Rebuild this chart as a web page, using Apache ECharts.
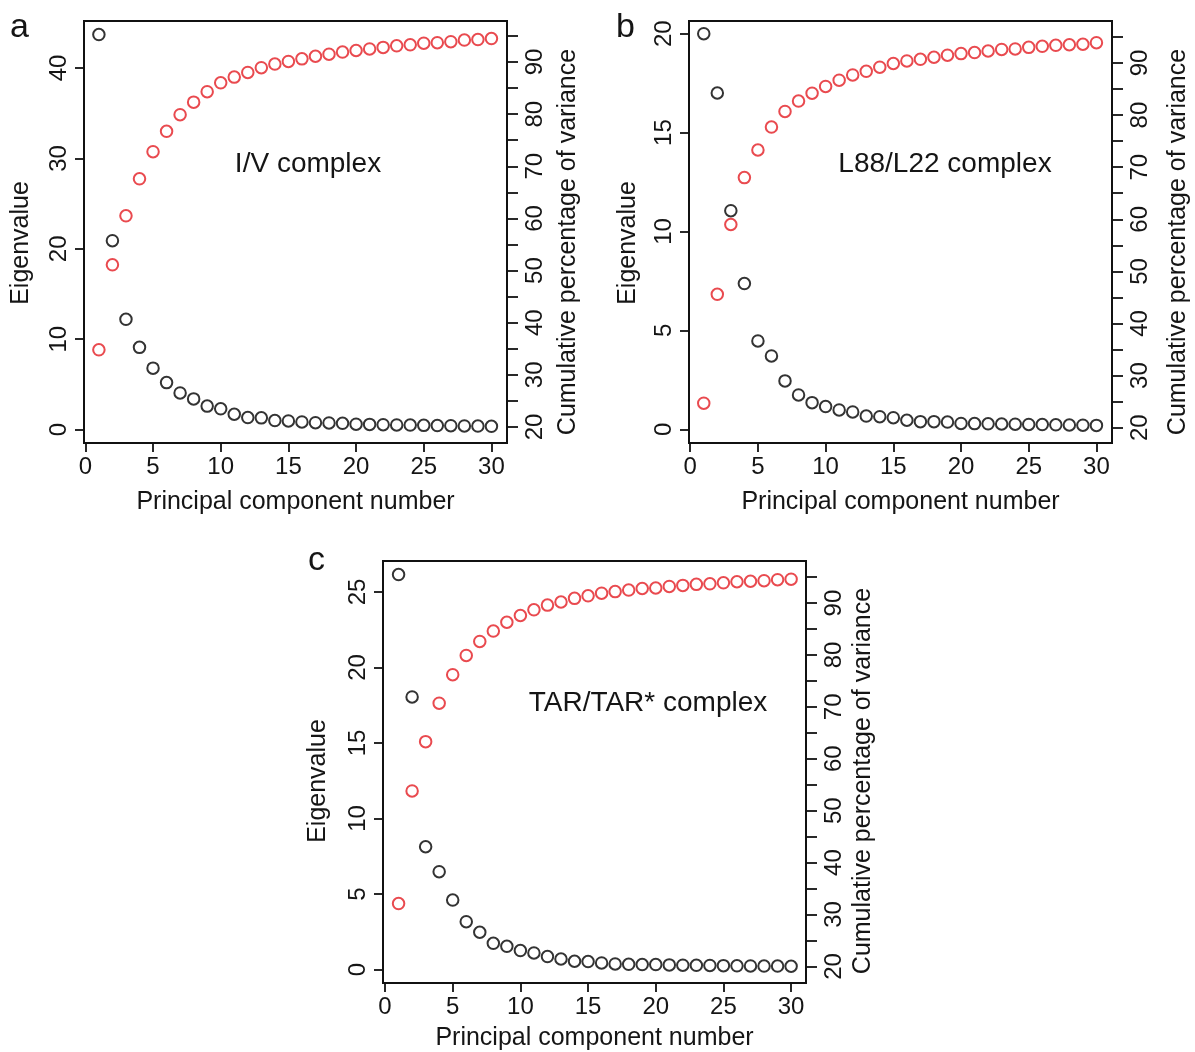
<!DOCTYPE html>
<html>
<head>
<meta charset="utf-8">
<script src="https://cdn.jsdelivr.net/npm/echarts@6/dist/echarts.min.js"></script>
<style>
html,body{margin:0;padding:0;background:#fff;}
#chart{width:1195px;height:1052px;}
</style>
</head>
<body>
<div id="chart"></div>
<script>
// Principal component numbers
const pcNumbers = [1,2,3,4,5,6,7,8,9,10,11,12,13,14,15,16,17,18,19,20,21,22,23,24,25,26,27,28,29,30];

// Panel a: I/V complex
const eigenA = [43.7,20.9,12.2,9.1,6.8,5.2,4.06,3.4,2.6,2.3,1.7,1.33,1.3,1.0,0.96,0.85,0.77,0.74,0.7,0.6,0.58,0.55,0.52,0.5,0.47,0.45,0.43,0.41,0.39,0.37];
const cumA = [34.8,51.1,60.5,67.6,72.8,76.7,79.9,82.3,84.3,86.0,87.1,88.0,88.9,89.6,90.1,90.6,91.1,91.5,91.9,92.2,92.5,92.8,93.1,93.3,93.6,93.7,93.9,94.2,94.3,94.5];

// Panel b: L88/L22 complex
const eigenB = [20.0,17.0,11.05,7.37,4.47,3.71,2.45,1.74,1.35,1.15,0.98,0.88,0.67,0.64,0.59,0.46,0.39,0.39,0.37,0.30,0.29,0.28,0.27,0.26,0.25,0.24,0.23,0.22,0.21,0.2];
const cumB = [24.7,45.6,59.0,68.0,73.3,77.7,80.7,82.7,84.2,85.5,86.7,87.7,88.4,89.2,89.9,90.4,90.7,91.1,91.5,91.8,92.0,92.3,92.6,92.7,93.0,93.2,93.4,93.5,93.6,93.9];

// Panel c: TAR/TAR* complex
const eigenC = [26.15,18.05,8.13,6.48,4.6,3.17,2.47,1.74,1.54,1.26,1.1,0.86,0.7,0.55,0.53,0.44,0.37,0.35,0.33,0.33,0.31,0.29,0.28,0.27,0.26,0.25,0.24,0.23,0.23,0.22];
const cumC = [32.1,53.8,63.3,70.7,76.2,79.9,82.6,84.6,86.3,87.6,88.7,89.6,90.2,90.9,91.4,91.9,92.2,92.5,92.8,92.9,93.2,93.4,93.6,93.7,93.9,94.1,94.2,94.3,94.5,94.6];

// Tick values
const xTicks = [0,5,10,15,20,25,30];
const yTicksA = [0,10,20,30,40];
const yTicksB = [0,5,10,15,20];
const yTicksC = [0,5,10,15,20,25];
const cumTicks = [20,25,30,35,40,45,50,55,60,65,70,75,80,85,90,95];
const cumLabels = [20,30,40,50,60,70,80,90];

const panelTitles = ['I/V complex','L88/L22 complex','TAR/TAR* complex'];
const panelLetters = ['a','b','c'];
const xTitle = 'Principal component number';
const yTitleLeft = 'Eigenvalue';
const yTitleRight = 'Cumulative percentage of variance';

const FONT = '"Liberation Sans", Arial, Helvetica, sans-serif';
const TXT = '#151515';
const RED = '#e31d23';

const grids = [
  {left:84, top:21, width:423, height:422},
  {left:689, top:21, width:423, height:422},
  {left:383, top:561, width:423, height:422}
];
const xRanges = [[-0.1,31.15],[-0.09,31.15],[-0.15,31.1]];
const leftRanges = [[-1.48,45.2],[-0.69,20.64],[-0.89,27.05]];
const rightRanges = [[16.93,97.86],[17.06,98.06],[16.8,98.1]];
const leftTicks = [yTicksA, yTicksB, yTicksC];
const eigens = [eigenA, eigenB, eigenC];
const cums = [cumA, cumB, cumC];
const xNameGaps = [47,47,43];

const chart = echarts.init(document.getElementById('chart'), null, {renderer:'canvas'});

const gridOpts = grids.map(g => Object.assign({show:true, borderColor:'#111', borderWidth:2, backgroundColor:'transparent', containLabel:false, outerBoundsMode:'none'}, g));

const xAxes = grids.map((g,i) => ({
  type:'value', gridIndex:i, min:xRanges[i][0], max:xRanges[i][1],
  name: xTitle, nameLocation:'middle', nameGap:xNameGaps[i],
  nameTextStyle:{fontFamily:FONT, fontSize:25, color:TXT, verticalAlign:'top'},
  axisLine:{show:true, onZero:false, lineStyle:{color:'#111', width:2}},
  axisTick:{show:true, length:9, customValues:xTicks, lineStyle:{color:'#111', width:1.8}},
  axisLabel:{show:true, customValues:xTicks, fontFamily:FONT, fontSize:24, color:TXT, margin:12},
  splitLine:{show:false}
}));

const yAxes = [];
grids.forEach((g,i) => {
  yAxes.push({
    type:'value', gridIndex:i, position:'left', min:leftRanges[i][0], max:leftRanges[i][1],
    axisLine:{show:true, onZero:false, lineStyle:{color:'#111', width:2}},
    axisTick:{show:true, length:9, customValues:leftTicks[i], lineStyle:{color:'#111', width:1.8}},
    axisLabel:{show:true, customValues:leftTicks[i], rotate:90, fontFamily:FONT, fontSize:24, color:TXT, margin:13},
    splitLine:{show:false}
  });
  yAxes.push({
    type:'value', gridIndex:i, position:'right', min:rightRanges[i][0], max:rightRanges[i][1],
    axisLine:{show:true, onZero:false, lineStyle:{color:'#111', width:2}},
    axisTick:{show:true, length:11, customValues:cumTicks, lineStyle:{color:'#111', width:1.8}},
    axisLabel:{show:true, customValues:cumLabels, rotate:90, fontFamily:FONT, fontSize:24, color:TXT, margin:16},
    splitLine:{show:false}
  });
});

const series = [];
grids.forEach((g,i) => {
  series.push({
    type:'scatter', xAxisIndex:i, yAxisIndex:2*i,
    symbol:'circle', symbolSize:11.5,
    itemStyle:{color:'rgba(0,0,0,0)', borderColor:'#000', borderWidth:2},
    data: pcNumbers.map((p,k) => [p, eigens[i][k]]),
    z:3
  });
  series.push({
    type:'scatter', xAxisIndex:i, yAxisIndex:2*i+1,
    symbol:'circle', symbolSize:11.5,
    itemStyle:{color:'rgba(0,0,0,0)', borderColor:RED, borderWidth:2},
    data: pcNumbers.map((p,k) => [p, cums[i][k]]),
    z:3
  });
});

const letterPos = [[10,30],[616,30],[308,563]];
const annoPos = [[308,164],[945,164],[648,703]];
const leftNamePos = [[21,243],[628,243],[318,781]];
const rightNamePos = [[568,242],[1178,242],[863,781]];

const graphics = [];
grids.forEach((g,i) => {
  graphics.push({type:'text', left:letterPos[i][0], top:letterPos[i][1]-19, style:{text:panelLetters[i], font:'34px '+FONT, fill:TXT}});
  graphics.push({type:'text', x:annoPos[i][0], y:annoPos[i][1], style:{text:panelTitles[i], font:'28px '+FONT, fill:TXT, align:'center', verticalAlign:'middle'}});
  graphics.push({type:'text', x:leftNamePos[i][0], y:leftNamePos[i][1], rotation:Math.PI/2, style:{text:yTitleLeft, font:'25px '+FONT, fill:TXT, align:'center', verticalAlign:'middle'}});
  graphics.push({type:'text', x:rightNamePos[i][0], y:rightNamePos[i][1], rotation:Math.PI/2, style:{text:yTitleRight, font:'25px '+FONT, fill:TXT, align:'center', verticalAlign:'middle'}});
});

chart.setOption({
  animation:false,
  backgroundColor:'#ffffff',
  grid: gridOpts,
  xAxis: xAxes,
  yAxis: yAxes,
  series: series,
  graphic: graphics
});
</script>
</body>
</html>
